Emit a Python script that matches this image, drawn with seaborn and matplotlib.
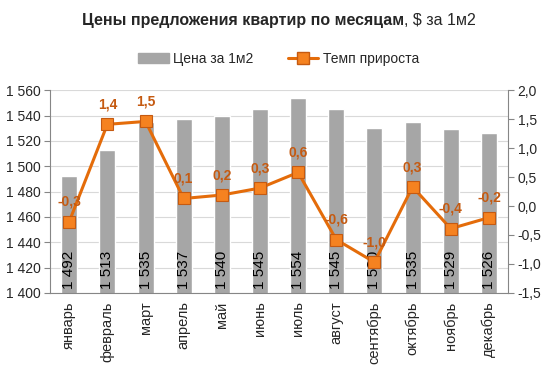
import matplotlib
matplotlib.use("Agg")
import matplotlib.pyplot as plt
import numpy as np
import pandas as pd
import seaborn as sns
from matplotlib.lines import Line2D
from matplotlib.patches import Patch

months = ["январь", "февраль", "март", "апрель", "май", "июнь",
          "июль", "август", "сентябрь", "октябрь", "ноябрь", "декабрь"]
prices = [1492, 1513, 1535, 1537, 1540, 1545, 1554, 1545, 1530, 1535, 1529, 1526]
growth = [-0.27, 1.41, 1.46, 0.13, 0.19, 0.31, 0.58, -0.58, -0.97, 0.33, -0.39, -0.2]
growth_labels = ["-0,3", "1,4", "1,5", "0,1", "0,2", "0,3",
                 "0,6", "-0,6", "-1,0", "0,3", "-0,4", "-0,2"]

BAR = "#a6a6a6"
LINE = "#e46c0a"
MARK = "#f58220"
LABEL = "#c55a11"

sns.set_style("white")
plt.rcParams["font.family"] = ["Liberation Sans", "DejaVu Sans"]

df = pd.DataFrame({"month": months, "price": prices, "growth": growth})

fig = plt.figure(figsize=(5.57, 3.68), dpi=100)
ax = fig.add_axes([0.09, 0.204, 0.822, 0.551])
sns.barplot(data=df, x="month", y="price", color=BAR, width=0.42,
            saturation=1, ax=ax)
ax.set_ylim(1400, 1560)
ax.set_yticks(np.arange(1400, 1561, 20))
ax.set_yticklabels([f"{v:,}".replace(",", " ") for v in range(1400, 1561, 20)],
                   fontsize=10)
ax.set_xlim(-0.5, 11.5)
ax.set_xlabel("")
ax.set_ylabel("")
ax.grid(axis="y", color="#d9d9d9", linewidth=0.8)
ax.set_axisbelow(True)
for s in ["top", "right"]:
    ax.spines[s].set_visible(False)
for s in ["left", "bottom"]:
    ax.spines[s].set_color("#868686")
    ax.spines[s].set_linewidth(0.8)
ax.set_xticks(np.arange(12))
ax.set_xticklabels(months, rotation=90, fontsize=10.5)
ax.tick_params(axis="x", length=0, pad=6)
ax.set_xticks(np.arange(-0.5, 12, 1), minor=True)
ax.tick_params(axis="x", which="minor", length=4, color="#868686")
ax.tick_params(axis="y", length=4, color="#868686", left=True, pad=3)

# price labels inside bars
for i, p in enumerate(prices):
    ax.text(i, 1403, f"{p:,}".replace(",", " "), rotation=90, ha="center",
            va="bottom", fontsize=11, color="black")

ax2 = ax.twinx()
sns.lineplot(x=np.arange(12), y=growth, ax=ax2, color=LINE, linewidth=2.2,
             marker="s", markersize=9, markerfacecolor=MARK,
             markeredgecolor=LABEL, markeredgewidth=0.8)
ax2.set_ylim(-1.5, 2.0)
ax2.set_yticks(np.arange(-1.5, 2.01, 0.5))
ax2.set_yticklabels([f"{v:.1f}".replace(".", ",") for v in np.arange(-1.5, 2.01, 0.5)],
                    fontsize=10)
for s in ["top", "left", "bottom"]:
    ax2.spines[s].set_visible(False)
ax2.spines["right"].set_color("#868686")
ax2.spines["right"].set_linewidth(0.8)
ax2.tick_params(axis="y", length=4, color="#868686", right=True, pad=3)

for i, (g, lab) in enumerate(zip(growth, growth_labels)):
    ax2.text(i, g + 0.22, lab, ha="center", va="bottom", fontsize=10,
             color=LABEL, fontweight="bold")

# title: bold part + regular part
t1 = fig.text(0, 0.945, "Цены предложения квартир по месяцам",
              ha="left", va="center", fontsize=11.5, fontweight="bold")
t2 = fig.text(0, 0.945, ", $ за 1м2", ha="left", va="center", fontsize=11.5)
renderer = fig.canvas.get_renderer()
w1 = t1.get_window_extent(renderer).width / fig.bbox.width
w2 = t2.get_window_extent(renderer).width / fig.bbox.width
x0 = 0.5 - (w1 + w2) / 2
t1.set_x(x0)
t2.set_x(x0 + w1)

handles = [Patch(color=BAR, label="Цена за 1м2"),
           Line2D([], [], color=LINE, linewidth=2.2, marker="s", markersize=8,
                  markerfacecolor=MARK, markeredgecolor=LABEL,
                  label="Темп прироста")]
fig.legend(handles=handles, loc="center", bbox_to_anchor=(0.5, 0.84), ncol=2,
           frameon=False, fontsize=10, handlelength=2.2, columnspacing=2.5,
           handletextpad=0.3)

fig.savefig("out.png", dpi=100)
